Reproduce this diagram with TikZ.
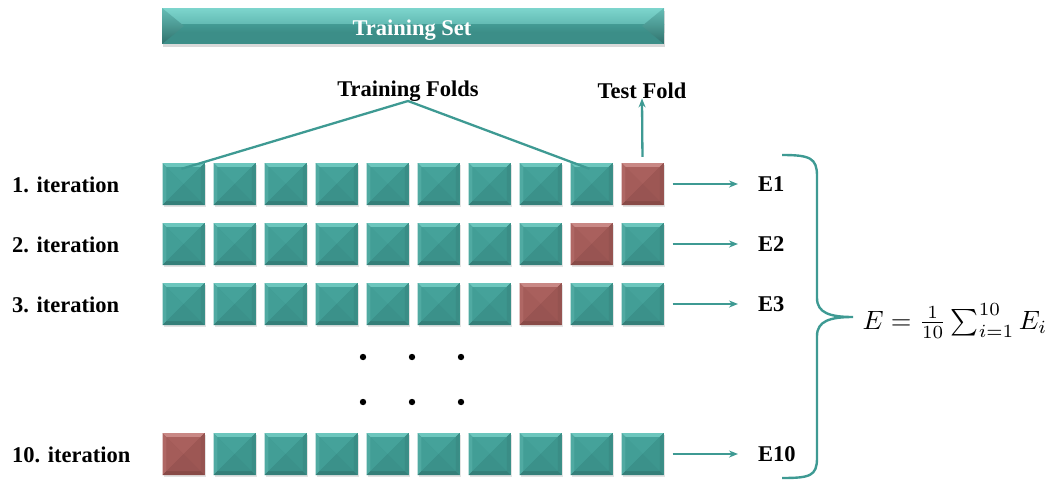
\documentclass[tikz,border=0pt]{standalone}
\usepackage[no-math]{fontspec}
\setmainfont{Liberation Serif}
\usetikzlibrary{arrows.meta,shadows}

% fold colours: bevel frame (T L R B) and inner facets (t l r b)
\definecolor{grT}{HTML}{6CC6BD}
\definecolor{grL}{HTML}{50AAA2}
\definecolor{grR}{HTML}{3A8D86}
\definecolor{grB}{HTML}{357F79}
\definecolor{grt}{HTML}{45A29A}
\definecolor{grl}{HTML}{429E96}
\definecolor{grr}{HTML}{3D968E}
\definecolor{grb}{HTML}{3B918A}
\definecolor{rdT}{HTML}{C98885}
\definecolor{rdL}{HTML}{AF6764}
\definecolor{rdR}{HTML}{955350}
\definecolor{rdB}{HTML}{884A47}
\definecolor{rdt}{HTML}{A9605D}
\definecolor{rdl}{HTML}{A45C59}
\definecolor{rdr}{HTML}{9D5754}
\definecolor{rdb}{HTML}{985452}
\definecolor{tealline}{HTML}{3E9A93}
\definecolor{barTop}{HTML}{7DD5CD}
\definecolor{barMid}{HTML}{439B94}
\definecolor{barBot}{HTML}{3C8E88}

\tikzset{
  lbl/.style={font=\fontsize{22.5}{26}\selectfont\bfseries, inner sep=0pt},
  fold/.style={minimum size=42pt, inner sep=0pt, draw=none,
    drop shadow={opacity=0.22, shadow xshift=1pt, shadow yshift=-2pt},
    fill=#1r,
    path picture={
      \coordinate (NW) at (path picture bounding box.north west);
      \coordinate (NE) at (path picture bounding box.north east);
      \coordinate (SW) at (path picture bounding box.south west);
      \coordinate (SE) at (path picture bounding box.south east);
      \coordinate (C)  at (path picture bounding box.center);
      \coordinate (nw) at ([xshift=4pt,yshift=-4pt]NW);
      \coordinate (ne) at ([xshift=-4pt,yshift=-4pt]NE);
      \coordinate (sw) at ([xshift=4pt,yshift=4pt]SW);
      \coordinate (se) at ([xshift=-4pt,yshift=4pt]SE);
      % bevel frame
      \fill[#1T] (NW) -- (NE) -- (ne) -- (nw) -- cycle;
      \fill[#1L] (NW) -- (SW) -- (sw) -- (nw) -- cycle;
      \fill[#1R] (NE) -- (SE) -- (se) -- (ne) -- cycle;
      \fill[#1B] (SW) -- (SE) -- (se) -- (sw) -- cycle;
      % faint pyramid facets
      \fill[#1t] (nw) -- (ne) -- (C) -- cycle;
      \fill[#1l] (nw) -- (sw) -- (C) -- cycle;
      \fill[#1r] (ne) -- (se) -- (C) -- cycle;
      \fill[#1b] (sw) -- (se) -- (C) -- cycle;
    }},
  conn/.style={draw=tealline, line width=2.3pt, -{Stealth[length=9pt,width=7pt]}},
  fan/.style={draw=tealline, line width=2.3pt},
  brace/.style={draw=tealline, line width=2.4pt},
}

\begin{document}
\begin{tikzpicture}[x=1pt,y=-1pt]
\useasboundingbox (0,0) rectangle (1056,479);

% training set bar
\node[minimum width=502pt, minimum height=36pt, inner sep=0pt,
      drop shadow={opacity=0.3, shadow xshift=1pt, shadow yshift=-3pt},
      fill=barBot,
      path picture={
        \shade[top color=barTop, bottom color=barMid]
          (path picture bounding box.north west) rectangle ([yshift=-16pt]path picture bounding box.north east);
        \shade[top color=barMid, bottom color=barBot]
          ([yshift=-16pt]path picture bounding box.north west) rectangle ([yshift=-24pt]path picture bounding box.north east);
        \shade[top color=barTop!60!barMid, bottom color=barBot!80!black]
          (path picture bounding box.north west) -- ([xshift=22pt]path picture bounding box.west)
          -- (path picture bounding box.south west) -- cycle;
        \shade[top color=barTop!60!barMid, bottom color=barBot!80!black]
          (path picture bounding box.north east) -- ([xshift=-22pt]path picture bounding box.east)
          -- (path picture bounding box.south east) -- cycle;
      }] (set) at (413,26) {};
\node[lbl, text=white, anchor=base] (settxt) at (412,35) {Training Set};

% folds of every iteration (the red one is the test fold)
\foreach \r/\y/\t in {1/184/10, 2/244/9, 3/304/8, 10/454/1} {
  \foreach \c in {1,...,10} {
    \ifnum\c=\t \def\clr{rd}\else \def\clr{gr}\fi
    \node[fold=\clr] (f\r-\c) at ({183.5+51*(\c-1)},\y) {};
  }
}

% row labels and errors
\node[lbl, anchor=west] (it1)  at (12,185) {1. iteration};
\node[lbl, anchor=west] (it2)  at (12,245) {2. iteration};
\node[lbl, anchor=west] (it3)  at (12,305) {3. iteration};
\node[lbl, anchor=west] (it10) at (12,455) {10. iteration};

\node[lbl, anchor=west] (e1)  at (758,184) {E1};
\node[lbl, anchor=west] (e2)  at (758,244) {E2};
\node[lbl, anchor=west] (e3)  at (758,304) {E3};
\node[lbl, anchor=west] (e10) at (758,454) {E10};

\foreach \r in {1,2,3,10}
  \draw[conn, shorten <=9pt, shorten >=20pt] (f\r-10.east) -- (e\r.west);

% training folds / test fold annotations
\node[lbl, anchor=base] (trf) at (408,96) {Training Folds};
\node[lbl, anchor=base] (tsf) at (642,98) {Test Fold};
\coordinate (apex) at (408,101);
\draw[fan] ([xshift=-2pt,yshift=-6pt]f1-1.north) -- (apex) -- ([xshift=-2pt,yshift=-6pt]f1-9.north);
\draw[conn, shorten <=6pt, shorten >=-1pt] (f1-10.north) -- ([yshift=-1pt]tsf.south);

% omitted iterations
\foreach \x in {363,412,461}
  \foreach \y in {357,402}
    \fill (\x,\y) circle (3.2pt);

% brace and mean error
\coordinate (bt) at (782,155);
\coordinate (bm) at (853,317);
\coordinate (bb) at (782,478);
\draw[brace] (bt) .. controls (810,155) and (817,158) .. (817,176)
  -- (817,298) .. controls (817,313) and (830,317) .. (bm)
  .. controls (830,317) and (817,321) .. (817,336)
  -- (817,458) .. controls (817,476) and (810,478) .. (bb);
\node[anchor=west, inner sep=0pt, scale=2.65] (mean) at (862,321)
  {$E=\frac{1}{10}\sum_{i=1}^{10}E_i$};
\end{tikzpicture}
\end{document}
